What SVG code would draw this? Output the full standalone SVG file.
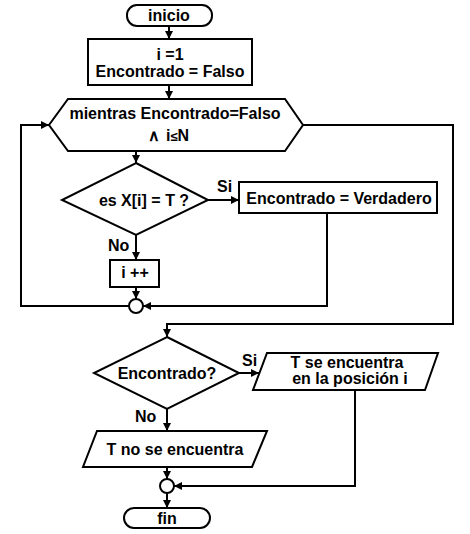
<svg xmlns="http://www.w3.org/2000/svg" width="470" height="534" viewBox="0 0 470 534">
<style>
.s{fill:#fff;stroke:#000;stroke-width:2}
.c{fill:none;stroke:#000;stroke-width:2}
text{font-family:"Liberation Sans",Arial,sans-serif;font-weight:bold;font-size:16px;fill:#000}
.m{text-anchor:middle}
</style>
<defs>
<marker id="a" markerUnits="userSpaceOnUse" markerWidth="8" markerHeight="8" refX="8" refY="4" orient="auto">
<path d="M0,0 L8,4 L0,8 z" fill="#000"/>
</marker>
</defs>
<rect width="470" height="534" fill="#fff"/>
<g id="connectors">
<path class="c" d="M169,26 V39" marker-end="url(#a)"/>
<path class="c" d="M169,85 V99" marker-end="url(#a)"/>
<path class="c" d="M136,151 V163" marker-end="url(#a)"/>
<path class="c" d="M208,200 H239" marker-end="url(#a)"/>
<path class="c" d="M136,235 V260" marker-end="url(#a)"/>
<path class="c" d="M136,287 V299" marker-end="url(#a)"/>
<path class="c" d="M327,213 V306 H143" marker-end="url(#a)"/>
<path class="c" d="M129,306 H21 V125 H49" marker-end="url(#a)"/>
<path class="c" d="M303,125 H453 V324 H167 V337" marker-end="url(#a)"/>
<path class="c" d="M239,373 H259" marker-end="url(#a)"/>
<path class="c" d="M167,409 V431" marker-end="url(#a)"/>
<path class="c" d="M355,390 V486 H174" marker-end="url(#a)"/>
<path class="c" d="M167,467 V479" marker-end="url(#a)"/>
<path class="c" d="M167,493 V508" marker-end="url(#a)"/>
<text x="217" y="192">Si</text>
<text x="108" y="251">No</text>
<text x="242" y="366">Si</text>
<text x="135" y="422">No</text>
</g>
<g id="inicio">
<rect class="s" x="127" y="5" width="85" height="21" rx="10"/>
<text class="m" x="169" y="21">inicio</text>
</g>
<g id="init">
<rect class="s" x="88" y="39" width="164" height="46"/>
<text class="m" x="170" y="60">i =1</text>
<text class="m" x="170" y="77">Encontrado = Falso</text>
</g>
<g id="mientras">
<polygon class="s" points="49,125 68,99 285,99 303,125 285,151 68,151"/>
<text class="m" x="175" y="119">mientras Encontrado=Falso</text>
<text x="148" y="141" font-size="13">∧</text>
<text x="166" y="141">i<tspan font-size="13">≤</tspan>N</text>
</g>
<g id="cond1">
<polygon class="s" points="136,163 208,200 136,235 62,200"/>
<text class="m" x="144" y="206">es X[i] = T ?</text>
</g>
<g id="verdadero">
<rect class="s" x="239" y="182" width="198" height="31"/>
<text class="m" x="339" y="204">Encontrado = Verdadero</text>
</g>
<g id="inc">
<rect class="s" x="110" y="260" width="49" height="27"/>
<text class="m" x="135" y="278">i ++</text>
</g>
<g id="join1">
<circle class="s" cx="136" cy="306" r="7"/>
</g>
<g id="cond2">
<polygon class="s" points="167,337 239,373 167,409 94,373"/>
<text class="m" x="167" y="379">Encontrado?</text>
</g>
<g id="found">
<polygon class="s" points="267,353 438,353 425,390 253,390"/>
<text class="m" x="347" y="368">T se encuentra</text>
<text class="m" x="350" y="384">en la posición i</text>
</g>
<g id="notfound">
<polygon class="s" points="97,431 267,431 252,467 83,467"/>
<text class="m" x="175" y="455">T no se encuentra</text>
</g>
<g id="join2">
<circle class="s" cx="167" cy="486" r="7"/>
</g>
<g id="fin">
<rect class="s" x="124" y="508" width="86" height="20" rx="10"/>
<text class="m" x="167" y="524">fin</text>
</g>
</svg>
